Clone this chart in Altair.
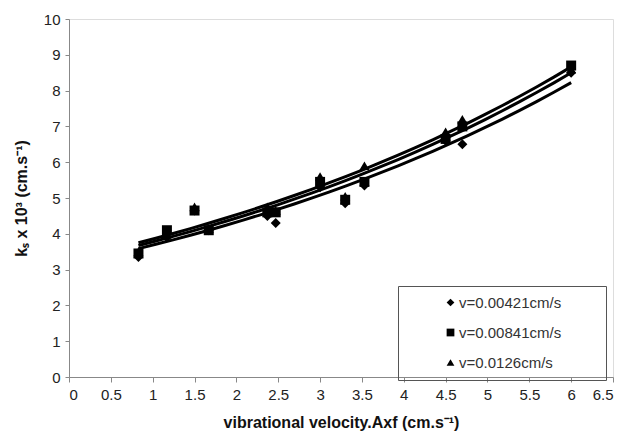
import altair as alt
import pandas as pd

series_names = ["v=0.00421cm/s", "v=0.00841cm/s", "v=0.0126cm/s"]
x_vals = [0.83, 1.17, 1.5, 1.67, 2.37, 2.47, 3.0, 3.3, 3.53, 4.5, 4.7, 6.0]
y_diamond = [3.35, 3.9, 4.65, 4.1, 4.5, 4.3, 5.3, 4.85, 5.35, 6.6, 6.5, 8.5]
y_square = [3.45, 4.1, 4.65, 4.1, 4.6, 4.6, 5.45, 4.95, 5.45, 6.65, 7.0, 8.7]
y_triangle = [3.5, 4.0, 4.75, 4.15, 4.75, 4.65, 5.6, 5.05, 5.9, 6.85, 7.2, 8.6]
x_ticks = [0, 0.5, 1, 1.5, 2, 2.5, 3, 3.5, 4, 4.5, 5, 5.5, 6, 6.5]
y_ticks = [0, 1, 2, 3, 4, 5, 6, 7, 8, 9, 10]

rows = []
for name, ys in zip(series_names, [y_diamond, y_square, y_triangle]):
    for xv, yv in zip(x_vals, ys):
        rows.append({"x": xv, "y": yv, "series": name})
df = pd.DataFrame(rows)

font = "Liberation Sans"

xscale = alt.Scale(domain=[0, 6.5], nice=False, zero=True)
yscale = alt.Scale(domain=[0, 10], nice=False)

xaxis = alt.Axis(
    values=x_ticks, title="vibrational velocity.Axf (cm.s⁻¹)", grid=False,
    labelFont=font, labelFontSize=15, labelColor="#222", labelPadding=5,
    labelOverlap=False, labelExpr="datum.value",
    titleFont=font, titleFontSize=16, titleFontWeight="bold", titleColor="#111",
    titlePadding=12, domainColor="#888", tickColor="#888", tickSize=5,
)
yaxis = alt.Axis(
    values=y_ticks, title="kₛ x 10³ (cm.s⁻¹)", grid=False,
    labelFont=font, labelFontSize=15, labelColor="#222", labelPadding=5,
    labelOverlap=False, labelExpr="datum.value",
    titleFont=font, titleFontSize=16, titleFontWeight="bold", titleColor="#111",
    titlePadding=14, domainColor="#888", tickColor="#888", tickSize=4,
)

base = alt.Chart(df)

lines = base.transform_regression(
    "x", "y", method="exp", groupby=["series"]
).mark_line(color="black", strokeWidth=3).encode(
    x=alt.X("x:Q", scale=xscale, axis=xaxis),
    y=alt.Y("y:Q", scale=yscale, axis=yaxis),
    detail="series:N",
)

points = base.mark_point(filled=True, opacity=1, color="black").encode(
    x=alt.X("x:Q", scale=xscale, axis=xaxis),
    y=alt.Y("y:Q", scale=yscale, axis=yaxis),
    shape=alt.Shape(
        "series:N",
        scale=alt.Scale(domain=series_names, range=["diamond", "square", "triangle-up"]),
        legend=alt.Legend(
            title="\u00a0", titleOrient="right", titlePadding=36,
            orient="none", legendX=329, legendY=267,
            strokeColor="#555", padding=9, rowPadding=14,
            labelFont=font, labelFontSize=15, labelColor="#333",
            symbolFillColor="black", symbolStrokeColor="black", symbolSize=60,
            symbolOffset=36, labelOffset=1,
        ),
    ),
    size=alt.value(100),
)

chart = alt.layer(lines, points).properties(
    width=544, height=358,
    padding={"left": 69, "top": 19, "right": 16, "bottom": 62},
    autosize=alt.AutoSizeParams(type="none"),
).configure_view(stroke="#888", strokeWidth=1.5).configure(background="white")

chart.save("out.html", embed_options={"renderer": "svg", "actions": False})
